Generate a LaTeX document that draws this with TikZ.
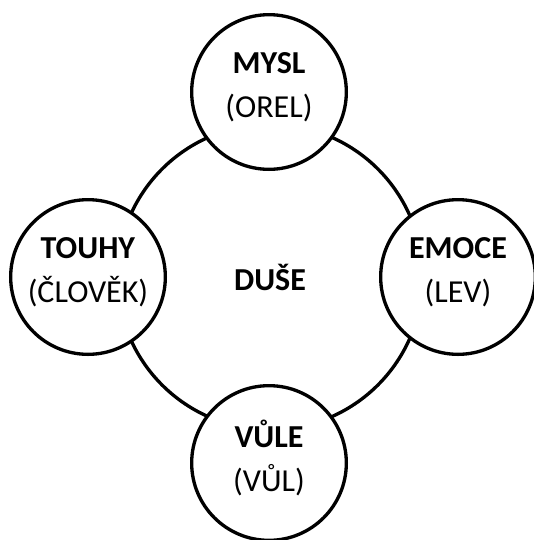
\documentclass[tikz,border=0pt]{standalone}
\usepackage{fontspec}
\setmainfont{Carlito}
\usepackage{tikz}

\tikzset{
  soul/.style={circle,draw,line width=2.5pt,minimum size=229pt,inner sep=0pt,
    font=\fontsize{24}{33}\selectfont\bfseries},
  part/.style={circle,draw,line width=2.5pt,fill=white,minimum size=116pt,
    inner sep=0pt,align=center,font=\fontsize{24}{33}\selectfont,
    execute at end node={\rule[-11pt]{0pt}{0pt}}}
}

\begin{document}
\begin{tikzpicture}[x=0.75pt,y=-0.75pt]
      \useasboundingbox (0,0) rectangle (534,540);

      % the soul and its four parts
      \node [soul] (duse) at (270,277) {DUŠE};

      \node [part] (mysl) at (269,92) {\textbf{MYSL}\\(OREL)};
      \node [part] (touhy) at (88,277) {\textbf{TOUHY}\\(ČLOVĚK)};
      \node [part] (emoce) at (458,277) {\textbf{EMOCE}\\(LEV)};
      \node [part] (vule) at (269,463) {\textbf{VŮLE}\\(VŮL)};

\end{tikzpicture}
\end{document}
